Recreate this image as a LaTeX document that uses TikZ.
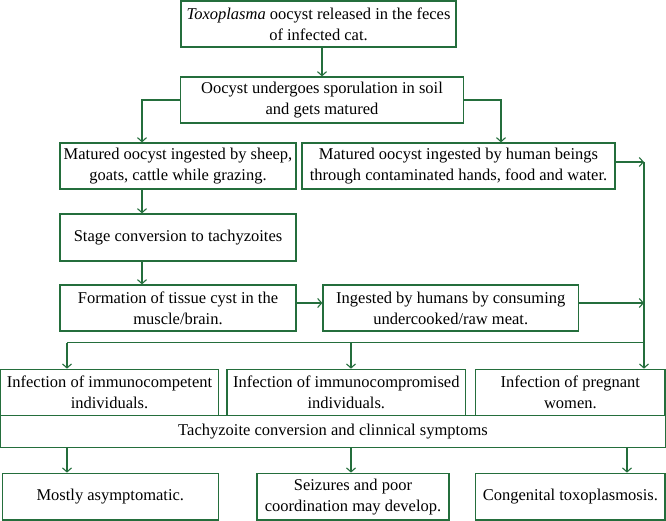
\documentclass[tikz,border=0pt]{standalone}
\usepackage{fontspec}
\setmainfont{Liberation Serif}
\usetikzlibrary{arrows.meta,positioning,calc}
\definecolor{flowgreen}{RGB}{36,110,60}
\tikzset{
box/.style={draw=flowgreen, line width=1.25pt, align=center, inner sep=0pt,
    minimum height=46pt, font=\fontsize{16.5}{21}\selectfont},
arr/.style={-{Straight Barb[length=4pt,width=9pt]}, flowgreen, line width=1.1pt},
wire/.style={flowgreen, line width=1.1pt},
}

\begin{document}
\begin{tikzpicture}[x=1pt,y=-1pt]
        \useasboundingbox (0,0) rectangle (666,521);

        \coordinate (colL) at (142,0);
        \coordinate (colR) at (501,0);
        \coordinate (rail) at (644,0);
        \coordinate (colA) at (67,0);
        \coordinate (colB) at (351,0);
        \coordinate (colC) at (627,0);
        \coordinate (split) at (0,342.7);

        \node[box, minimum width=275pt] (oocyst) at (318.5,24) {\textit{Toxoplasma} oocyst released in the feces\\ of infected cat.};
        \node[box, minimum width=282.5pt] (sporul) at (322,100) {Oocyst undergoes sporulation in soil\\ and gets matured};
        \node[box, minimum width=236pt] (animal) at (178,166) {Matured oocyst ingested by sheep,\\ goats, cattle while grazing.};
        \node[box, minimum width=313pt] (human) at (458.5,166) {Matured oocyst ingested by human beings\\ through contaminated hands, food and water.};
        \node[box, minimum width=236pt, minimum height=47pt] (stage) at (178,237.5) {Stage conversion to tachyzoites};
        \node[box, minimum width=236pt] (tissue) at (178,308) {Formation of tissue cyst in the\\ muscle/brain.};
        \node[box, minimum width=255.5pt] (meat) at (450.75,308) {Ingested by humans by consuming\\ undercooked/raw meat.};

        \node[box, minimum width=217.9pt] (compet) at (109.55,392.3) {Infection of immunocompetent\\ individuals.};
        \node[box, minimum width=238.7pt] (compro) at (346.35,392.3) {Infection of immunocompromised\\ individuals.};
        \node[box, minimum width=189.3pt] (pregn) at (570.35,392.3) {Infection of pregnant\\ women.};
        \node[box, minimum width=664.8pt, minimum height=31.8pt] (tachy) at (333,431.4) {Tachyzoite conversion and clinnical symptoms};

        \node[box, minimum width=216pt, minimum height=46.7pt] (asympt) at (110.3,496.6) {Mostly asymptomatic.};
        \node[box, minimum width=192pt, minimum height=46.7pt] (seiz) at (353,496.6) {Seizures and poor\\ coordination may develop.};
        \node[box, minimum width=189.3pt, minimum height=46.7pt] (congen) at (570.35,496.6) {Congenital toxoplasmosis.};

        \draw[arr] (sporul.north |- oocyst.south) -- (sporul.north);
        \draw[arr] (sporul.west) -| (colL |- animal.north);
        \draw[arr] (sporul.east) -| (colR |- human.north);
        \draw[arr] ([yshift=4pt]human.east) -- ([yshift=4pt]human.east -| rail);
        \draw[arr] (colL |- animal.south) -- (colL |- stage.north);
        \draw[arr] (colL |- stage.south) -- (colL |- tissue.north);
        \draw[arr] ([yshift=5pt]tissue.east) -- ([yshift=5pt]tissue.east -| meat.west);
        \draw[arr] ([yshift=5pt]meat.east) -- ([yshift=5pt]meat.east -| rail);

        \draw[arr] ([yshift=4pt]human.east -| rail) -- (rail |- pregn.north);
        \draw[wire] (colA |- split) -- (rail |- split);
        \draw[arr] (colA |- split) -- (colA |- compet.north);
        \draw[arr] (colB |- split) -- (colB |- compro.north);

        \draw[arr] (colA |- tachy.south) -- (colA |- asympt.north);
        \draw[arr] (colB |- tachy.south) -- (colB |- seiz.north);
        \draw[arr] (colC |- tachy.south) -- (colC |- congen.north);
\end{tikzpicture}
\end{document}
